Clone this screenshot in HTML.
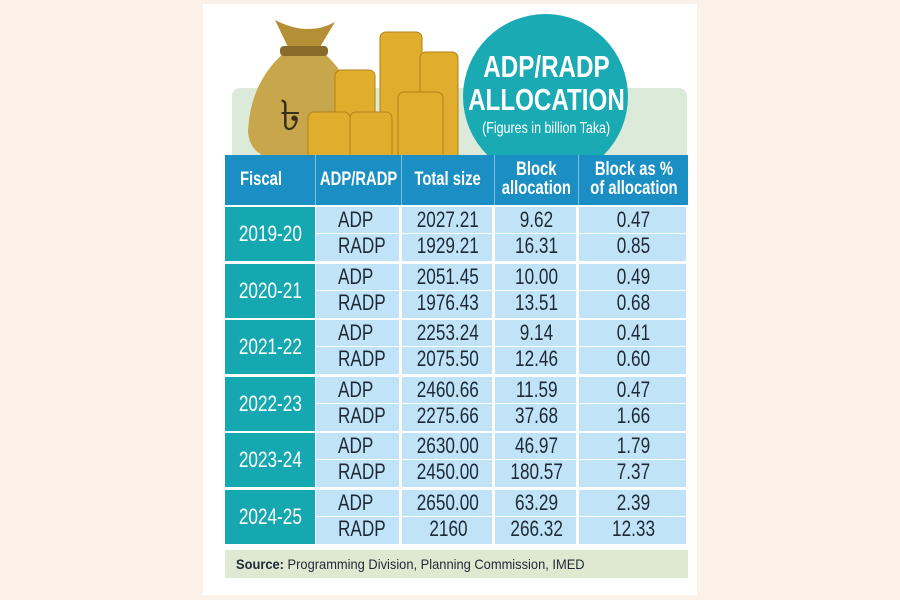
<!DOCTYPE html>
<html><head><style>
body{margin:0;width:900px;height:600px;background:#fcf1e8;position:relative;overflow:hidden;font-family:"Liberation Sans",sans-serif}
.card{position:absolute;left:203px;top:4px;width:494px;height:591px;background:#fff}
.abs{position:absolute}
.t{position:absolute;color:#1d2a36;white-space:nowrap}
.t span{display:inline-block;transform:scaleX(.78)}
.row{position:absolute;left:225px;width:463px}
</style></head><body>
<div class="card"></div>
<div class="abs" style="left:232px;top:88px;width:455px;height:70px;background:#dcebd9;border-radius:8px 8px 0 0"></div>
<div class="abs" style="left:463px;top:14px;width:165px;height:165px;border-radius:50%;background:#1aaab3"></div>
<svg class="abs" style="left:230px;top:12px" width="230" height="160">
 <path d="M55 40 Q20 70 18 120 Q20 148 60 150 L110 150 Q140 145 128 100 Q120 65 95 42 Z" fill="#c7a64c"/>
 <path d="M45 8 L58 35 L90 35 L105 10 Q78 25 45 8Z" fill="#b58f35"/>
 <rect x="50" y="34" width="48" height="10" rx="4" fill="#8a6a2a"/>
 <text x="50" y="118" font-size="42" fill="#3a2f1a" font-family="Liberation Sans">৳</text>
 <g fill="#e0ae2c" stroke="#b0821a" stroke-width="1">
  <rect x="150" y="20" width="42" height="135" rx="6"/>
  <rect x="190" y="40" width="38" height="110" rx="6"/>
  <rect x="105" y="58" width="40" height="80" rx="6"/>
  <rect x="78" y="100" width="42" height="55" rx="6"/>
  <rect x="120" y="100" width="42" height="55" rx="6"/>
  <rect x="168" y="80" width="45" height="80" rx="6"/>
 </g>
</svg>
<div class="t" style="left:396px;top:50px;width:300px;text-align:center;color:#fff;font-weight:bold;font-size:31px;line-height:33px"><span>ADP/RADP<br>ALLOCATION</span></div>
<div class="t" style="left:396px;top:120px;width:300px;text-align:center;color:#fff;font-size:16px"><span>(Figures in billion Taka)</span></div>
<div class="row" style="top:155px;height:50px;background:#1b8fc4"></div>
<div class="abs" style="left:225px;top:205px;width:463px;height:340px;background:#fff"></div>
<div class="abs" style="left:225px;top:550px;width:463px;height:28px;background:#dfe8d0"></div>
<div class="t" style="left:236px;top:556px;font-size:14px"><span style="transform:scaleX(.92);transform-origin:left">
<b>Source:</b> Programming Division, Planning Commission, IMED</span></div>
<script>
var cols=[[225,90],[316,85],[402,92],[495,83],[579,109]];
var h=document.body;
function add(html){h.insertAdjacentHTML('beforeend',html)}
var hd=["Fiscal","ADP/RADP","Total size","Block<br>allocation","Block as %<br>of allocation"];
hd.forEach(function(s,i){var c=cols[i];
 if(i==0)add('<div class="t" style="left:240px;top:170px;color:#fff;font-weight:bold;font-size:19px;line-height:19px"><span style="transform-origin:left">'+s+'</span></div>');
 else add('<div class="t" style="left:'+(c[0]-40)+'px;top:'+(s.indexOf('<br>')>0?160:170)+'px;width:'+(c[1]+80)+'px;text-align:center;color:#fff;font-weight:bold;font-size:19px;line-height:19px"><span>'+s+'</span></div>')});
for(var i=1;i<5;i++)add('<div class="abs" style="left:'+(cols[i][0]-1)+'px;top:155px;width:1px;height:50px;background:#7cc0e0"></div>');
var d=[["2019-20","2027.21","9.62","0.47","1929.21","16.31","0.85"],["2020-21","2051.45","10.00","0.49","1976.43","13.51","0.68"],["2021-22","2253.24","9.14","0.41","2075.50","12.46","0.60"],["2022-23","2460.66","11.59","0.47","2275.66","37.68","1.66"],["2023-24","2630.00","46.97","1.79","2450.00","180.57","7.37"],["2024-25","2650.00","63.29","2.39","2160","266.32","12.33"]];
d.forEach(function(r,k){var y=207+k*56.5,H=54;
 add('<div class="abs" style="left:225px;top:'+y+'px;width:90px;height:'+H+'px;background:#16a8b0"></div>');
 add('<div class="t" style="left:195px;top:'+(y+14)+'px;width:150px;text-align:center;color:#fff;font-size:22px"><span>'+r[0]+'</span></div>');
 for(var c=1;c<5;c++){add('<div class="abs" style="left:'+cols[c][0]+'px;top:'+y+'px;width:'+(cols[c][1]-2)+'px;height:'+(H/2-1)+'px;background:#c0e3f7"></div>');
  add('<div class="abs" style="left:'+cols[c][0]+'px;top:'+(y+H/2)+'px;width:'+(cols[c][1]-2)+'px;height:'+(H/2)+'px;background:#c0e3f7"></div>');}
 var v=[["ADP",r[1],r[2],r[3]],["RADP",r[4],r[5],r[6]]];
 v.forEach(function(vv,j){vv.forEach(function(s,c){var cc=cols[c+1];
  if(c==0)add('<div class="t" style="left:'+(cc[0]+22)+'px;top:'+(y+1+j*26)+'px;font-size:22px;line-height:24px"><span style="transform-origin:left">'+s+'</span></div>');
  else add('<div class="t" style="left:'+(cc[0]-30)+'px;top:'+(y+1+j*26)+'px;width:'+(cc[1]+60)+'px;text-align:center;font-size:22px;line-height:24px"><span>'+s+'</span></div>')})});
});
</script>
</body></html>
